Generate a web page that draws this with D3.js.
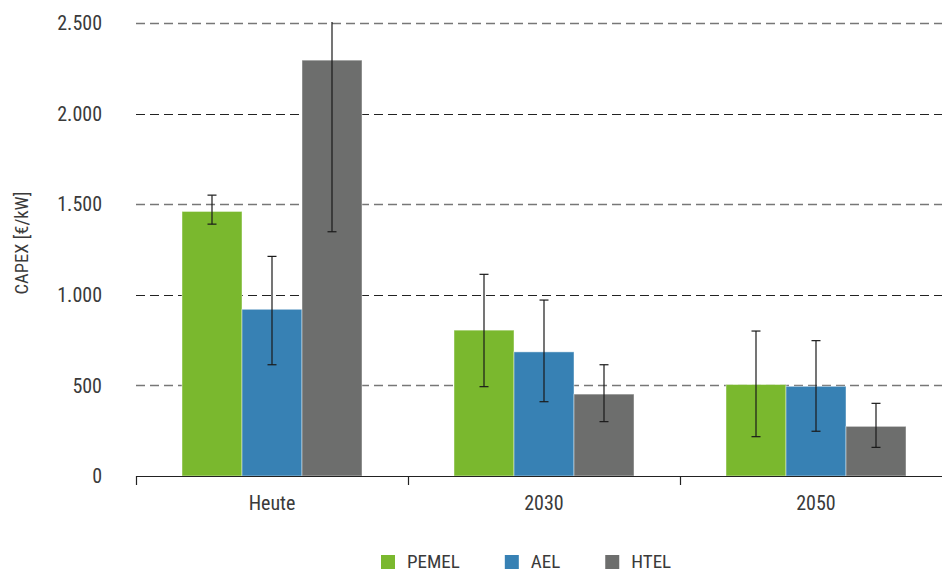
<!DOCTYPE html>
<html>
<head>
<meta charset="utf-8">
<script src="https://cdn.jsdelivr.net/npm/d3@7"></script>
<style>
  html, body { margin: 0; padding: 0; background: #fff; }
  svg { display: block; }
  text { font-family: "Liberation Sans Narrow", "Roboto Condensed", "Arial Narrow", sans-serif; fill: #3a3a3a; }
</style>
</head>
<body>
<svg id="chart" width="942" height="573"></svg>
<script>
const categories = ["Heute", "2030", "2050"];
const series = ["PEMEL", "AEL", "HTEL"];
const colors = ["#7ab82e", "#3781b4", "#6d6e6d"];
const values = {
  PEMEL: [1460, 805, 505],
  AEL:   [920, 685, 495],
  HTEL:  [2295, 452, 274]
};
const errLow = {
  PEMEL: [1390, 493, 217],
  AEL:   [614, 410, 247],
  HTEL:  [1348, 300, 158]
};
const errHigh = {
  PEMEL: [1550, 1113, 800],
  AEL:   [1212, 971, 747],
  HTEL:  [2505, 614, 401]
};
const yTicks = [0, 500, 1000, 1500, 2000, 2500];
const yTitle = "CAPEX [€/kW]";

const svg = d3.select("#chart");
const W = 942, H = 573;
const plotLeft = 136, plotBottom = 476, plotTop = 23;

const de = d3.formatLocale({decimal: ",", thousands: ".", grouping: [3], currency: ["", "€"]});
const fmt = de.format(",d");

const y = d3.scaleLinear().domain([0, 2500]).range([plotBottom, plotTop]);
const x0 = d3.scaleBand().domain(categories).range([plotLeft, plotLeft + 272 * categories.length]).padding(0);
const groupW = 180;
const x1 = d3.scaleBand().domain(series)
  .range([(x0.bandwidth() - groupW) / 2, (x0.bandwidth() + groupW) / 2]).padding(0);
const color = d3.scaleOrdinal().domain(series).range(colors);

// gridlines
svg.append("g").selectAll("line")
  .data(yTicks.filter(d => d > 0))
  .join("line")
  .attr("x1", plotLeft).attr("x2", W)
  .attr("y1", d => Math.round(y(d)) + 0.5).attr("y2", d => Math.round(y(d)) + 0.5)
  .attr("stroke", (d, i) => i % 2 === 0 ? "#777" : "#222")
  .attr("stroke-width", (d, i) => i % 2 === 0 ? 1.6 : 1.1)
  .attr("stroke-dasharray", "9,5");

// y labels
svg.append("g").selectAll("text")
  .data(yTicks)
  .join("text")
  .attr("x", 102)
  .attr("y", d => y(d))
  .attr("dy", "0.36em")
  .attr("text-anchor", "end")
  .attr("font-size", 20)
  .text(d => fmt(d));

// y title
svg.append("text")
  .attr("transform", `translate(28,243) rotate(-90)`)
  .attr("text-anchor", "middle")
  .attr("font-size", 18.5)
  .text(yTitle);

// bars
const rows = categories.map((c, i) => series.map(s => ({
  cat: c, s, v: values[s][i], lo: errLow[s][i], hi: errHigh[s][i]
})));
const groups = svg.append("g").selectAll("g")
  .data(rows)
  .join("g")
  .attr("transform", (d, i) => `translate(${x0(categories[i])},0)`);

groups.selectAll("rect")
  .data(d => d)
  .join("rect")
  .attr("x", d => x1(d.s))
  .attr("y", d => y(d.v))
  .attr("width", x1.bandwidth())
  .attr("height", d => y(0) - y(d.v))
  .attr("fill", d => color(d.s))
  .attr("stroke", "rgba(255,255,255,0.45)")
  .attr("stroke-width", 1);

// error bars
const eb = groups.selectAll("g.err")
  .data(d => d)
  .join("g").attr("class", "err")
  .attr("stroke", "#1a1a1a")
  .attr("stroke-width", 1.2);
eb.append("line")
  .attr("x1", d => x1(d.s) + x1.bandwidth() / 2)
  .attr("x2", d => x1(d.s) + x1.bandwidth() / 2)
  .attr("y1", d => y(d.lo)).attr("y2", d => y(d.hi));
eb.append("line")
  .attr("x1", d => x1(d.s) + x1.bandwidth() / 2 - 4.5)
  .attr("x2", d => x1(d.s) + x1.bandwidth() / 2 + 4.5)
  .attr("y1", d => y(d.lo)).attr("y2", d => y(d.lo));
eb.filter(d => d.hi <= 2500).append("line")
  .attr("x1", d => x1(d.s) + x1.bandwidth() / 2 - 4.5)
  .attr("x2", d => x1(d.s) + x1.bandwidth() / 2 + 4.5)
  .attr("y1", d => y(d.hi)).attr("y2", d => y(d.hi));

// x axis
const ax = svg.append("g");
ax.append("line")
  .attr("x1", plotLeft).attr("x2", W)
  .attr("y1", plotBottom + 0.5).attr("y2", plotBottom + 0.5)
  .attr("stroke", "#222").attr("stroke-width", 1.2);
ax.selectAll("line.tick")
  .data(categories)
  .join("line").attr("class", "tick")
  .attr("x1", d => Math.round(x0(d)) + 0.5).attr("x2", d => Math.round(x0(d)) + 0.5)
  .attr("y1", plotBottom).attr("y2", plotBottom + 9)
  .attr("stroke", "#222").attr("stroke-width", 1.2);
ax.selectAll("text")
  .data(categories)
  .join("text")
  .attr("x", d => x0(d) + x0.bandwidth() / 2)
  .attr("y", 510)
  .attr("text-anchor", "middle")
  .attr("font-size", 20)
  .text(d => d);

// legend
const leg = svg.append("g");
let lx = 381;
series.forEach((s, i) => {
  leg.append("rect")
    .attr("x", lx).attr("y", 555).attr("width", 14).attr("height", 14)
    .attr("fill", color(s));
  const t = leg.append("text")
    .attr("x", lx + 26).attr("y", 568)
    .attr("font-size", 19)
    .text(s);
  const w = t.node().getComputedTextLength();
  lx = lx + 26 + w + 45;
});
</script>
</body>
</html>
